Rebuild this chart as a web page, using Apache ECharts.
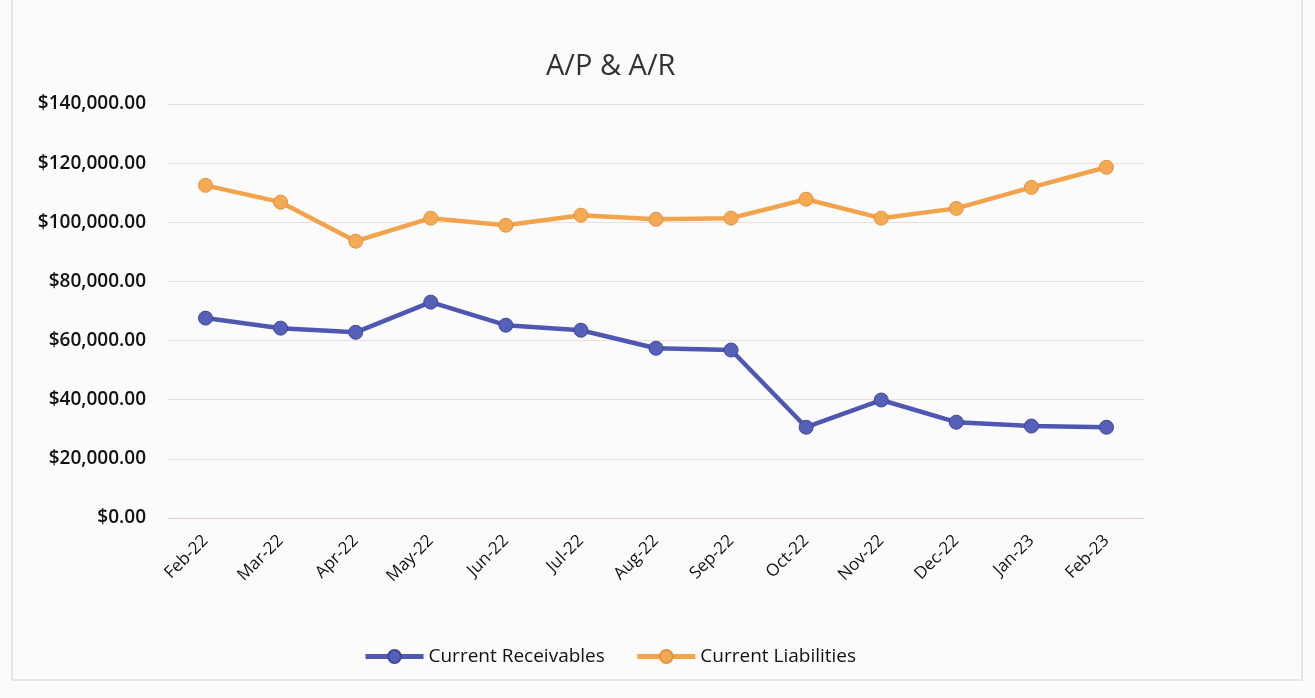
<!DOCTYPE html>
<html>
<head>
<meta charset="utf-8">
<title>A/P & A/R</title>
<script src="https://cdn.jsdelivr.net/npm/echarts@6/dist/echarts.min.js"></script>
<style>
  html, body { margin: 0; padding: 0; background: #fbfbfb; }
  #main { width: 1315px; height: 698px; }
</style>
</head>
<body>
<div id="main"></div>
<script>
// months on the x axis
var months = ['Feb-22', 'Mar-22', 'Apr-22', 'May-22', 'Jun-22', 'Jul-22', 'Aug-22',
              'Sep-22', 'Oct-22', 'Nov-22', 'Dec-22', 'Jan-23', 'Feb-23'];

// values
var receivables = [67600, 64200, 62800, 73000, 65200, 63500, 57400,
                   56800, 30700, 39900, 32400, 31100, 30700];
var liabilities = [112500, 106800, 93600, 101400, 99000, 102400, 101000,
                   101400, 107800, 101400, 104700, 111800, 118600];

// y axis ticks
var yMin = 0;
var yMax = 140000;
var yStep = 20000;

var myChart = echarts.init(document.getElementById('main'));

var labelFont = '"Open Sans", "Liberation Sans", sans-serif';

var option = {
    backgroundColor: '#fbfbfb',
    title: {
        text: 'A/P & A/R',
        left: 541,
        top: 47,
        textStyle: {
            fontFamily: labelFont,
            fontSize: 29,
            fontWeight: 'normal',
            color: '#333'
        }
    },
    legend: {
        bottom: 27,
        left: 358,
        itemWidth: 58,
        itemHeight: 16,
        itemGap: 30,
        lineStyle: { width: 5 },
        textStyle: {
            fontFamily: labelFont,
            fontSize: 19,
            color: '#111'
        },
        data: ['Current Receivables', 'Current Liabilities']
    },
    grid: {
        left: 168,
        right: 171,
        top: 104,
        bottom: 180
    },
    xAxis: {
        type: 'category',
        data: months,
        boundaryGap: true,
        axisLine: { lineStyle: { color: '#e3cdd2' } },
        axisTick: { show: false },
        axisLabel: {
            rotate: 45,
            margin: 20,
            fontFamily: labelFont,
            fontSize: 17,
            color: '#111'
        }
    },
    yAxis: {
        type: 'value',
        min: yMin,
        max: yMax,
        interval: yStep,
        axisLine: { show: false },
        axisTick: { show: false },
        splitLine: { lineStyle: { color: '#eadde0', width: 1 } },
        axisLabel: {
            margin: 22,
            fontFamily: labelFont,
            fontSize: 19,
            fontWeight: 600,
            color: '#111',
            formatter: function (v) {
                return '$' + v.toLocaleString('en-US', { minimumFractionDigits: 2, maximumFractionDigits: 2 });
            }
        }
    },
    graphic: [{
        type: 'rect',
        shape: { x: 12, y: -4, width: 1290, height: 684 },
        style: { fill: 'none', stroke: '#eadadd', lineWidth: 1.5 },
        silent: true
    }],
    series: [
        {
            name: 'Current Receivables',
            type: 'line',
            data: receivables,
            symbol: 'circle',
            symbolSize: 14,
            color: '#4f57b2',
            lineStyle: { width: 4.5, color: '#4f57b2' },
            itemStyle: { color: '#5560b8', borderColor: '#3f4799', borderWidth: 1 }
        },
        {
            name: 'Current Liabilities',
            type: 'line',
            data: liabilities,
            symbol: 'circle',
            symbolSize: 14,
            color: '#f2a34c',
            lineStyle: { width: 4.5, color: '#f2a34c' },
            itemStyle: { color: '#f4a953', borderColor: '#e39440', borderWidth: 1 }
        }
    ]
};

myChart.setOption(option);
</script>
</body>
</html>
